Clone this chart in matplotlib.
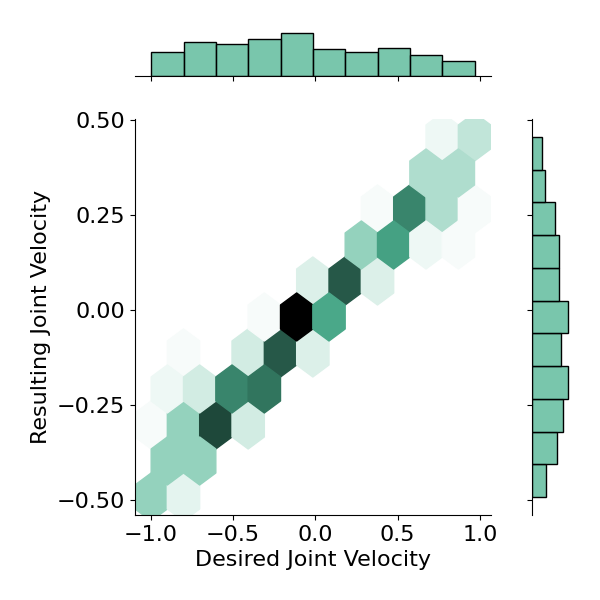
import colorsys
import numpy as np
import matplotlib
matplotlib.use('Agg')
from matplotlib import pyplot as plt
from matplotlib.colors import LinearSegmentedColormap, to_rgb

# binned joint counts (hex cell centres in data units)
hex_x = [-0.996, -0.800,
         -0.898, -0.702,
         -0.996, -0.800, -0.604, -0.407,
         -0.898, -0.702, -0.505, -0.309,
         -0.800, -0.407, -0.211, -0.015,
         -0.309, -0.113, 0.083,
         -0.015, 0.181, 0.377,
         0.279, 0.476, 0.672, 0.868,
         0.377, 0.574, 0.770, 0.966,
         0.672, 0.868,
         0.770, 0.966]
hex_y = [-0.491, -0.491,
         -0.396, -0.396,
         -0.302, -0.302, -0.302, -0.302,
         -0.207, -0.207, -0.207, -0.207,
         -0.112, -0.112, -0.112, -0.112,
         -0.017, -0.017, -0.017,
         0.077, 0.077, 0.077,
         0.172, 0.172, 0.172, 0.172,
         0.267, 0.267, 0.267, 0.267,
         0.362, 0.362,
         0.456, 0.456]
hex_n = [12, 3,
         12, 12,
         1, 12, 32, 5,
         2, 5, 25, 27,
         1, 5, 30, 4,
         1, 40, 21,
         4, 30, 4,
         12, 22, 2, 1,
         1, 25, 9, 1,
         9, 9,
         2, 7]

x_min, x_max = -0.996, 0.966
y_min, y_max = -0.491, 0.456

# marginal histogram counts
x_counts = [32, 46, 43, 50, 58, 37, 33, 38, 28, 21]
y_counts = [20, 36, 45, 51, 42, 52, 38, 38, 33, 19, 14]

color = '#4CB391'

# colormap like seaborn jointplot(kind='hex')
h, l, s = colorsys.rgb_to_hls(*to_rgb(color))
cols = [colorsys.hls_to_rgb(h, lv, s) for lv in np.linspace(1, 0, 12)]
cmap = LinearSegmentedColormap.from_list('blend', cols)

fig = plt.figure(figsize=(6, 6), dpi=100)
ax = fig.add_axes([0.225, 0.1417, 0.5928, 0.66])
ax_x = fig.add_axes([0.225, 0.8733, 0.5928, 0.075], sharex=ax)
ax_y = fig.add_axes([0.8872, 0.1417, 0.0628, 0.66], sharey=ax)

ax.hexbin(hex_x, hex_y, C=hex_n, reduce_C_function=np.sum, gridsize=10,
          extent=(x_min, x_max, y_min, y_max), cmap=cmap, vmin=0,
          vmax=max(hex_n))

xpad = 0.05 * (x_max - x_min)
ypad = 0.05 * (y_max - y_min)
ax.set_xlim(x_min - xpad, x_max + xpad)
ax.set_ylim(y_min - ypad, y_max + ypad)
ax.set_xticks([-1.0, -0.5, 0.0, 0.5, 1.0])
ax.set_yticks([-0.5, -0.25, 0.0, 0.25, 0.5])
ax.tick_params(labelsize=16)
ax.set_xlabel('Desired Joint Velocity', fontsize=16)
ax.set_ylabel('Resulting Joint Velocity', fontsize=16)
for sp in ['top', 'right']:
    ax.spines[sp].set_visible(False)

bar_face = to_rgb(color) + (0.75,)
x_edges = np.linspace(x_min, x_max, len(x_counts) + 1)
y_edges = np.linspace(y_min, y_max, len(y_counts) + 1)
ax_x.hist(x_edges[:-1], bins=x_edges, weights=x_counts,
          facecolor=bar_face, edgecolor='black', linewidth=1)
ax_y.hist(y_edges[:-1], bins=y_edges, weights=y_counts,
          orientation='horizontal', facecolor=bar_face, edgecolor='black',
          linewidth=1)

for sp in ['top', 'right', 'left']:
    ax_x.spines[sp].set_visible(False)
for sp in ['top', 'right', 'bottom']:
    ax_y.spines[sp].set_visible(False)
ax_x.tick_params(labelbottom=False, left=False, labelleft=False)
ax_y.tick_params(labelleft=False, bottom=False, labelbottom=False)

fig.savefig('out.png', dpi=100)
